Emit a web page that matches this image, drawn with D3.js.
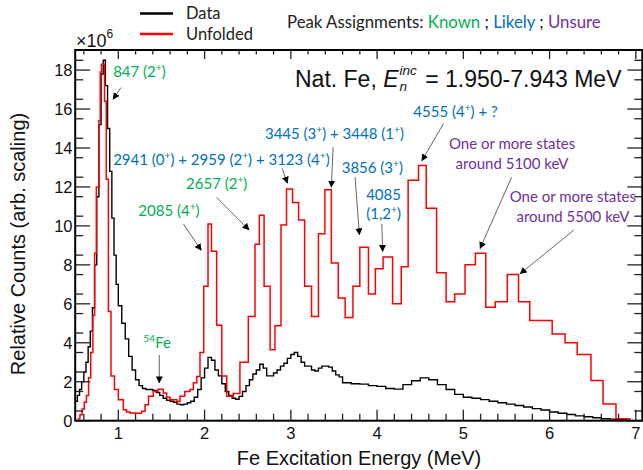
<!DOCTYPE html>
<html>
<head>
<meta charset="utf-8">
<script src="https://cdn.jsdelivr.net/npm/d3@7"></script>
<style>
  body { margin: 0; background: #fff; }
  text { font-family: "Liberation Sans", Arial, sans-serif; }
  .note { font-family: Lato, "Open Sans", sans-serif; }
</style>
</head>
<body>
<div id="chart"></div>
<script>
// bins as [lower edge (MeV), counts (x10^6)]
const dataBins = [
  [0.50,1.0],[0.525,1.3],[0.55,1.6],[0.575,2.0],[0.60,2.5],[0.625,3.0],[0.65,3.8],[0.675,4.6],[0.70,5.8],[0.725,8.0],
  [0.75,11.5],[0.775,15.2],[0.80,17.8],[0.825,18.5],[0.85,17.2],[0.875,15.0],[0.90,12.8],[0.925,10.4],[0.95,8.5],[0.975,7.0],
  [1.00,5.9],[1.04,5.0],[1.08,4.2],[1.12,3.3],[1.16,2.6],[1.20,2.1],[1.24,1.8],[1.28,1.65],[1.32,1.6],[1.36,1.6],
  [1.40,1.55],[1.44,1.45],[1.48,1.3],[1.52,1.15],[1.56,1.05],[1.60,1.0],[1.64,0.95],[1.68,0.85],[1.72,0.82],[1.76,0.85],
  [1.80,0.92],[1.84,1.0],[1.88,1.2],[1.92,1.6],[1.96,2.2],[2.00,2.7],[2.04,3.25],[2.08,3.1],[2.12,2.6],[2.16,2.3],
  [2.20,1.9],[2.24,1.5],[2.28,1.3],[2.32,1.15],[2.36,1.1],[2.40,1.25],[2.44,1.5],[2.48,1.8],[2.52,2.1],[2.56,2.4],
  [2.60,2.6],[2.64,2.9],[2.68,2.7],[2.72,2.3],[2.76,2.3],[2.80,2.45],[2.84,2.6],[2.88,2.8],[2.92,2.95],[2.96,3.2],
  [3.00,3.4],[3.04,3.5],[3.08,3.3],[3.12,3.0],[3.16,2.8],[3.20,2.8],[3.24,2.6],[3.28,2.55],[3.32,2.7],[3.36,2.8],
  [3.40,2.8],[3.44,2.75],[3.48,2.55],[3.52,2.35],[3.56,2.25],
  [3.60,1.95],[3.70,1.9],[3.80,1.88],[3.90,1.8],[4.00,1.76],[4.10,1.65],[4.20,1.62],[4.30,1.85],[4.40,2.05],[4.50,2.2],
  [4.60,2.1],[4.70,1.85],[4.80,1.6],[4.90,1.35],[5.00,1.2],[5.10,1.15],[5.20,1.08],[5.30,1.0],[5.40,0.92],[5.50,0.85],
  [5.60,0.78],[5.70,0.7],[5.80,0.62],[5.90,0.55],[6.00,0.45],[6.10,0.38],[6.20,0.32],[6.30,0.25],[6.40,0.2],[6.50,0.15],
  [6.60,0.1],[6.70,0.08],[6.80,0.05]
];
const dataEnd = 6.90;

const unfoldedBins = [
  [0.53,0.1],[0.555,0.3],[0.58,0.6],[0.605,0.95],[0.63,1.3],[0.655,2.2],[0.68,3.5],[0.705,5.4],[0.725,8.6],[0.745,12.0],
  [0.775,15.4],[0.79,17.9],[0.805,18.3],[0.84,16.4],[0.86,12.4],[0.885,5.6],[0.915,2.3],[0.955,1.6],[1.00,1.08],[1.058,0.56],
  [1.095,0.45],[1.135,0.4],[1.20,0.38],[1.27,0.48],[1.31,0.82],[1.35,1.25],[1.405,1.5],[1.46,1.62],[1.52,1.42],[1.56,1.2],
  [1.60,1.08],[1.68,0.99],[1.715,1.25],[1.77,1.5],[1.83,1.6],[1.87,1.95],[1.91,2.27],[1.947,3.5],[1.99,6.9],[2.04,10.1],
  [2.08,8.7],[2.14,4.9],[2.20,2.3],[2.257,1.25],[2.333,1.4],[2.41,3.0],[2.507,5.35],[2.585,9.06],[2.635,10.55],[2.69,6.9],
  [2.76,3.64],[2.816,4.87],[2.886,10.05],[2.95,11.9],[3.02,11.2],[3.09,10.3],[3.16,6.9],[3.24,5.35],[3.32,9.6],[3.395,11.85],
  [3.47,8.1],[3.55,6.3],[3.63,5.3],[3.72,6.9],[3.80,8.9],[3.90,6.5],[3.98,7.8],[4.07,8.4],[4.18,6.0],[4.28,7.9],
  [4.36,12.35],[4.48,13.1],[4.57,10.9],[4.69,7.6],[4.80,6.1],[4.90,6.5],[5.02,8.0],[5.14,8.6],[5.26,5.83],[5.37,6.1],
  [5.51,7.5],[5.64,6.1],[5.77,5.15],[6.03,4.45],[6.18,4.0],[6.32,3.4],[6.48,2.07],[6.62,0.86],[6.77,0.1]
];
const unfoldedEnd = 6.93;

const xTickValues = [1, 2, 3, 4, 5, 6, 7];
const yTickValues = [0, 2, 4, 6, 8, 10, 12, 14, 16, 18];

// peak labels: text position (E, counts), arrow from -> to, "^" marks superscript
const GREEN = "#00b050", BLUE = "#0070c0", PURPLE = "#7030a0";
const notes = [
  { lines: ["847 (2^+)"], at: [0.94, 17.62], anchor: "start", color: GREEN, from: [1.03, 17.1], to: [0.94, 16.5] },
  { lines: ["2941 (0^+) + 2959 (2^+) + 3123 (4^+)"], at: [0.94, 13.11], anchor: "start", color: BLUE, from: [2.90, 12.95], to: [2.96, 12.2] },
  { lines: ["3445 (3^+) + 3448 (1^+)"], at: [2.70, 14.45], anchor: "start", color: BLUE, from: [3.49, 14.05], to: [3.47, 12.0] },
  { lines: ["3856 (3^+)"], at: [3.59, 12.70], anchor: "start", color: BLUE, from: [3.745, 12.5], to: [3.795, 9.55] },
  { lines: ["4085", "(1,2^+)"], at: [4.075, 11.34], anchor: "middle", color: BLUE, from: [4.055, 10.1], to: [4.065, 8.7] },
  { lines: ["4555 (4^+) + ?"], at: [4.42, 15.57], anchor: "start", color: BLUE, from: [4.77, 15.25], to: [4.52, 13.35] },
  { lines: ["One or more states", "around 5100 keV"], at: [5.565, 13.93], anchor: "middle", color: PURPLE, from: [5.56, 12.5], to: [5.195, 8.85] },
  { lines: ["One or more states", "around 5500 keV"], at: [6.27, 11.22], anchor: "middle", color: PURPLE, from: [6.28, 9.78], to: [5.66, 7.55] },
  { lines: ["2657 (2^+)"], at: [1.785, 11.88], anchor: "start", color: GREEN, from: [2.14, 11.46], to: [2.515, 9.8] },
  { lines: ["2085 (4^+)"], at: [1.232, 10.52], anchor: "start", color: GREEN, from: [1.755, 10.1], to: [1.96, 8.75] },
  { lines: ["^54Fe"], at: [1.29, 3.73], anchor: "start", color: GREEN, from: [1.475, 3.37], to: [1.475, 1.95] }
];

const width = 643, height = 470;
const svg = d3.select("#chart").append("svg")
  .attr("width", width)
  .attr("height", height);

const x = d3.scaleLinear().domain([0.5, 7.075]).range([75.2, 642.3]);
const y = d3.scaleLinear().domain([0, 19.03]).range([420.7, 50]);
const [x0, x1] = x.range(), [y0, y1] = y.range();

svg.append("defs").append("clipPath").attr("id", "plot")
  .append("rect").attr("x", x0).attr("y", y1).attr("width", x1 - x0).attr("height", y0 - y1);

const marker = svg.select("defs").append("marker")
  .attr("id", "head")
  .attr("viewBox", "0 0 10 10")
  .attr("refX", 9).attr("refY", 5)
  .attr("markerWidth", 7).attr("markerHeight", 7)
  .attr("markerUnits", "userSpaceOnUse")
  .attr("orient", "auto");
marker.append("path").attr("d", "M0,0L10,5L0,10z").attr("fill", "#000");

// histograms
const step = d3.line().x(d => x(d[0])).y(d => y(d[1])).curve(d3.curveStepAfter);
function histPoints(bins, end) {
  const pts = bins.slice();
  pts.push([end, bins[bins.length - 1][1]]);
  pts.push([end, 0]);
  return pts;
}

const plot = svg.append("g").attr("clip-path", "url(#plot)");
plot.append("path")
  .attr("d", step(histPoints(dataBins, dataEnd)))
  .attr("fill", "none").attr("stroke", "#000").attr("stroke-width", 1.4);
plot.append("path")
  .attr("d", step(histPoints(unfoldedBins, unfoldedEnd)))
  .attr("fill", "none").attr("stroke", "#ff0000").attr("stroke-width", 1.5);

// frame and mirrored ticks
const tickColor = "#222";
const xMinor = d3.range(0.6, 7.05, 0.2).filter(v => Math.abs(v - Math.round(v)) > 0.01);
const yMinor = d3.range(0.5, 19, 1);
const ticks = svg.append("g").attr("stroke", tickColor).attr("stroke-width", 1.3);
xTickValues.forEach(v => {
  ticks.append("line").attr("x1", x(v)).attr("x2", x(v)).attr("y1", y0).attr("y2", y0 - 11);
  ticks.append("line").attr("x1", x(v)).attr("x2", x(v)).attr("y1", y1).attr("y2", y1 + 9);
});
xMinor.forEach(v => {
  ticks.append("line").attr("x1", x(v)).attr("x2", x(v)).attr("y1", y0).attr("y2", y0 - 7);
  ticks.append("line").attr("x1", x(v)).attr("x2", x(v)).attr("y1", y1).attr("y2", y1 + 4.5);
});
yTickValues.forEach(v => {
  ticks.append("line").attr("y1", y(v)).attr("y2", y(v)).attr("x1", x0).attr("x2", x0 + 15);
  ticks.append("line").attr("y1", y(v)).attr("y2", y(v)).attr("x1", x1).attr("x2", x1 - 15);
});
yMinor.forEach(v => {
  ticks.append("line").attr("y1", y(v)).attr("y2", y(v)).attr("x1", x0).attr("x2", x0 + 8);
  ticks.append("line").attr("y1", y(v)).attr("y2", y(v)).attr("x1", x1).attr("x2", x1 - 8);
});
svg.append("rect")
  .attr("x", x0).attr("y", y1).attr("width", x1 - x0).attr("height", y0 - y1)
  .attr("fill", "none").attr("stroke", "#000").attr("stroke-width", 2);

// tick labels
svg.append("g").selectAll("text").data(xTickValues).join("text")
  .attr("x", d => x(d)).attr("y", 439)
  .attr("text-anchor", "middle").attr("font-size", 16.5).attr("fill", "#111")
  .text(d => d);
svg.append("g").selectAll("text").data(yTickValues).join("text")
  .attr("x", 72.5).attr("y", d => y(d) + 6)
  .attr("text-anchor", "end").attr("font-size", 16.5).attr("fill", "#111")
  .text(d => d);

const mult = svg.append("text").attr("x", 76).attr("y", 47).attr("font-size", 18).attr("fill", "#111");
mult.append("tspan").text("\u00d710");
mult.append("tspan").attr("dy", -9).attr("font-size", 12).text("6");

// axis titles
svg.append("text")
  .attr("x", 359).attr("y", 465)
  .attr("text-anchor", "middle").attr("font-size", 20).attr("fill", "#111")
  .text("Fe Excitation Energy (MeV)");
svg.append("text")
  .attr("transform", "translate(25,244) rotate(-90)")
  .attr("text-anchor", "middle").attr("font-size", 20).attr("fill", "#111")
  .text("Relative Counts (arb. scaling)");

// in-plot title, E with both sub- and superscript
const title = svg.append("g").attr("font-size", 23).attr("fill", "#111");
const t1 = title.append("text").attr("x", 295).attr("y", 87);
t1.append("tspan").text("Nat. Fe,\u00a0");
t1.append("tspan").attr("font-style", "italic").text("E");
const w1 = t1.node().getComputedTextLength();
const sup = title.append("text").attr("x", 295 + w1 + 1).attr("y", 75)
  .attr("font-size", 13.5).attr("font-style", "italic").text("inc");
title.append("text").attr("x", 295 + w1 + 1).attr("y", 91)
  .attr("font-size", 13.5).attr("font-style", "italic").text("n");
const wSup = sup.node().getComputedTextLength();
title.append("text").attr("x", 295 + w1 + wSup + 3).attr("y", 87)
  .text("\u00a0= 1.950-7.943 MeV");

// legend
const legend = svg.append("g");
[["Data", "#000", 13.5, 19], ["Unfolded", "#ff0000", 34, 40]].forEach(([name, color, ly, ty]) => {
  legend.append("line").attr("x1", 140).attr("x2", 173).attr("y1", ly).attr("y2", ly)
    .attr("stroke", color).attr("stroke-width", 2.5);
  legend.append("text").attr("class", "note").attr("x", 186).attr("y", ty)
    .attr("font-size", 16.5).attr("fill", "#222").text(name);
});

const peaks = svg.append("text").attr("class", "note").attr("x", 287).attr("y", 28)
  .attr("font-size", 16.8).attr("fill", "#222");
[["Peak Assignments: ", "#222"], ["Known", GREEN], ["\u00a0; ", "#222"], ["Likely", BLUE],
 ["\u00a0; ", "#222"], ["Unsure", PURPLE]].forEach(([s, c]) => peaks.append("tspan").attr("fill", c).text(s));

// annotations
function addRich(textSel, str) {
  const parts = str.split(/(\^\d+|\^\+)/).filter(s => s.length);
  let raised = false;
  parts.forEach(p => {
    if (p.startsWith("^")) {
      textSel.append("tspan").attr("dy", -6).attr("font-size", "0.68em").text(p.slice(1));
      raised = true;
    } else {
      textSel.append("tspan").attr("dy", raised ? 6 : null).text(p);
      raised = false;
    }
  });
}

const noteG = svg.append("g");
notes.forEach(n => {
  noteG.append("line")
    .attr("x1", x(n.from[0])).attr("y1", y(n.from[1]))
    .attr("x2", x(n.to[0])).attr("y2", y(n.to[1]))
    .attr("stroke", "#555").attr("stroke-width", 0.9)
    .attr("marker-end", "url(#head)");
  n.lines.forEach((line, i) => {
    const t = noteG.append("text").attr("class", "note")
      .attr("x", x(n.at[0])).attr("y", y(n.at[1]) + i * 19.5)
      .attr("text-anchor", n.anchor).attr("font-size", 15).attr("fill", n.color);
    addRich(t, line);
  });
});
</script>
</body>
</html>
